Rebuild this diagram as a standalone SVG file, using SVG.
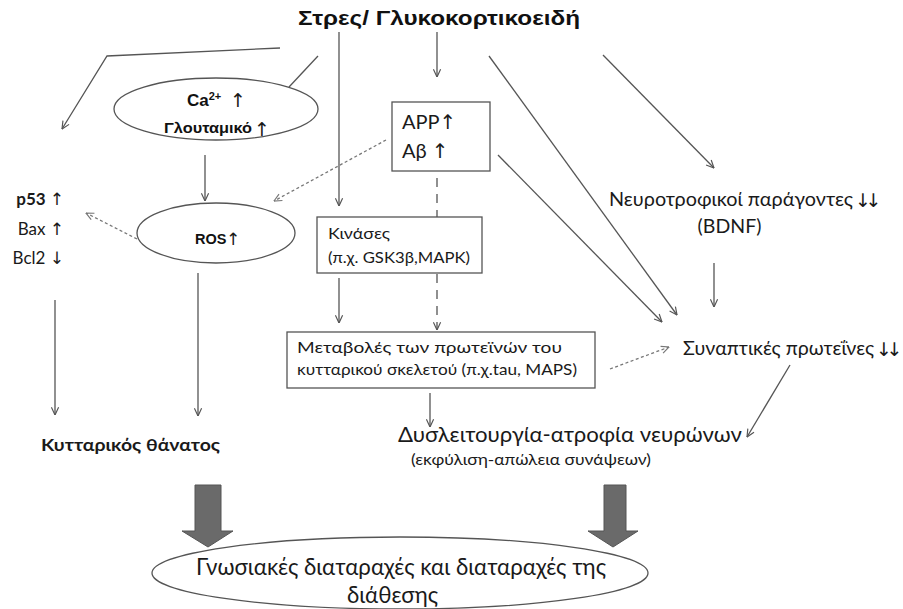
<svg xmlns="http://www.w3.org/2000/svg" width="903" height="609" viewBox="0 0 903 609">
<style>
.ln{stroke:#555;stroke-width:1.3;fill:none}
.ds{stroke:#777;stroke-width:1.3;fill:none;stroke-dasharray:3 2.5}
.dl{stroke:#555;stroke-width:1.3;fill:none;stroke-dasharray:9 7}
.nd{fill:#fff;stroke:#555;stroke-width:1.3}
.b{font-family:"Liberation Sans",Arial,sans-serif;font-weight:bold;fill:#111}
.c{font-family:Lato,"Noto Sans",sans-serif;fill:#1a1a1a}
.cb{font-family:Lato,"Noto Sans",sans-serif;font-weight:bold;fill:#1a1a1a}
.ar{font-family:"DejaVu Sans",sans-serif;font-weight:normal;fill:#1a1a1a}
.arb{font-family:"DejaVu Sans",sans-serif;font-weight:normal;fill:#1a1a1a;letter-spacing:-5.5px}
.blk{fill:#6a6a6a;stroke:#555;stroke-width:1}
</style>
<defs>
<marker id="a" viewBox="0 0 10 10" refX="9.5" refY="5" markerWidth="9" markerHeight="9" markerUnits="userSpaceOnUse" orient="auto">
<path d="M1,1 L9.5,5 L1,9" fill="none" stroke="#555" stroke-width="1.3"/>
</marker>
<marker id="ad" viewBox="0 0 10 10" refX="9.5" refY="5" markerWidth="9" markerHeight="9" markerUnits="userSpaceOnUse" orient="auto">
<path d="M1,1 L9.5,5 L1,9" fill="none" stroke="#777" stroke-width="1.3"/>
</marker>
</defs>
<rect width="903" height="609" fill="#fff"/>
<g id="connectors">
<polyline class="ln" points="280,48 107,56 62,129" marker-end="url(#a)"/>
<line class="ln" x1="318" y1="56" x2="289" y2="87"/>
<line class="ln" x1="339" y1="32" x2="339" y2="206" marker-end="url(#a)"/>
<line class="ln" x1="437" y1="32" x2="437" y2="77" marker-end="url(#a)"/>
<line class="ds" x1="386" y1="140" x2="274" y2="201" marker-end="url(#ad)"/>
<line class="ln" x1="205" y1="155" x2="205" y2="201" marker-end="url(#a)"/>
<line class="ds" x1="137" y1="239" x2="86" y2="213" marker-end="url(#ad)"/>
<line class="ln" x1="55" y1="300" x2="55" y2="415" marker-end="url(#a)"/>
<line class="ln" x1="198" y1="273" x2="198" y2="416" marker-end="url(#a)"/>
<line class="ln" x1="489" y1="56" x2="677" y2="315" marker-end="url(#a)"/>
<line class="ln" x1="498" y1="155" x2="662" y2="322" marker-end="url(#a)"/>
<line class="ln" x1="603" y1="55" x2="714" y2="168" marker-end="url(#a)"/>
<line class="ln" x1="714" y1="263" x2="714" y2="307" marker-end="url(#a)"/>
<line class="dl" x1="437" y1="178" x2="437" y2="330" marker-end="url(#a)"/>
<line class="ln" x1="339" y1="278" x2="339" y2="323" marker-end="url(#a)"/>
<line class="ln" x1="430" y1="393" x2="430" y2="427" marker-end="url(#a)"/>
<line class="ds" x1="610" y1="369" x2="669" y2="347" marker-end="url(#ad)"/>
<line class="ln" x1="790" y1="365" x2="747" y2="437" marker-end="url(#a)"/>
<polygon class="blk" points="195,485 221,485 221,531 233,531 208,547 182,531 195,531"/>
<polygon class="blk" points="604,485 626,485 626,531 638,531 613,547 588,531 604,531"/>
</g>
<g id="title"><text class="b" x="298" y="25" font-size="20.5" textLength="282" lengthAdjust="spacingAndGlyphs">Στρες/ Γλυκοκορτικοειδή</text></g>
<g id="ca"><ellipse class="nd" cx="216" cy="109" rx="102" ry="31"/>
<text class="b" x="187" y="106" font-size="17">Ca<tspan font-size="11" dy="-6">2+</tspan></text>
<text class="ar" x="238" y="107" font-size="19" text-anchor="middle">↑</text>
<text class="b" x="164" y="133" font-size="14" textLength="88" lengthAdjust="spacingAndGlyphs">Γλουταμικό</text>
<text class="ar" x="262" y="136" font-size="19" text-anchor="middle">↑</text></g>
<g id="ros"><ellipse class="nd" cx="216" cy="233" rx="79" ry="30"/>
<text class="b" x="195" y="244" font-size="14.5">ROS</text>
<text class="ar" x="233" y="245" font-size="17" text-anchor="middle">↑</text></g>
<g id="app"><rect class="nd" x="392" y="102" width="98" height="69"/>
<text class="c" x="402" y="129" font-size="20">APP<tspan class="ar">↑</tspan></text>
<text class="c" x="402" y="158" font-size="20">Aβ <tspan class="ar">↑</tspan></text></g>
<g id="kinases"><rect class="nd" x="317" y="217" width="165" height="56"/>
<text class="c" x="328" y="239" font-size="15.5" textLength="62" lengthAdjust="spacingAndGlyphs">Κινάσες</text>
<text class="c" x="328" y="263" font-size="15.5" textLength="142" lengthAdjust="spacingAndGlyphs">(π.χ. GSK3β,MAPK)</text></g>
<g id="cyto"><rect class="nd" x="287" y="332" width="308" height="56"/>
<text class="c" x="297" y="353" font-size="16" textLength="265" lengthAdjust="spacingAndGlyphs">Μεταβολές των πρωτεϊνών του</text>
<text class="c" x="297" y="375" font-size="16" textLength="280" lengthAdjust="spacingAndGlyphs">κυτταρικού σκελετού (π.χ.tau, MAPS)</text></g>
<g id="apopt">
<text class="cb" x="64" y="205" font-size="17" text-anchor="end">p53 <tspan class="ar">↑</tspan></text>
<text class="c" x="64" y="235" font-size="17" text-anchor="end">Bax <tspan class="ar">↑</tspan></text>
<text class="c" x="64" y="264" font-size="17" text-anchor="end">Bcl2 <tspan class="ar">↓</tspan></text></g>
<g id="neuro"><text class="c" x="609" y="206" font-size="19.5" textLength="244" lengthAdjust="spacingAndGlyphs">Νευροτροφικοί παράγοντες</text>
<text class="arb" x="855" y="207" font-size="19">↓↓</text>
<text class="c" x="729.5" y="233" font-size="19.5" text-anchor="middle">(BDNF)</text></g>
<g id="synaptic"><text class="c" x="683" y="355" font-size="19.5" textLength="191" lengthAdjust="spacingAndGlyphs">Συναπτικές πρωτεΐνες</text>
<text class="arb" x="876" y="356" font-size="19">↓↓</text></g>
<g id="death"><text class="cb" x="41" y="451" font-size="17.5" textLength="179" lengthAdjust="spacingAndGlyphs">Κυτταρικός θάνατος</text></g>
<g id="dysf"><text class="c" x="398" y="442" font-size="21.5" textLength="344" lengthAdjust="spacingAndGlyphs">Δυσλειτουργία-ατροφία νευρώνων</text>
<text class="c" x="411" y="465" font-size="15.5" textLength="240" lengthAdjust="spacingAndGlyphs">(εκφύλιση-απώλεια συνάψεων)</text></g>
<g id="bottom"><ellipse class="nd" cx="400" cy="573" rx="248" ry="36"/>
<text class="c" x="196" y="575" font-size="22.5" textLength="410" lengthAdjust="spacingAndGlyphs">Γνωσιακές διαταραχές και διαταραχές της</text>
<text class="c" x="347" y="603" font-size="22.5" textLength="91" lengthAdjust="spacingAndGlyphs">διάθεσης</text></g>
</svg>
